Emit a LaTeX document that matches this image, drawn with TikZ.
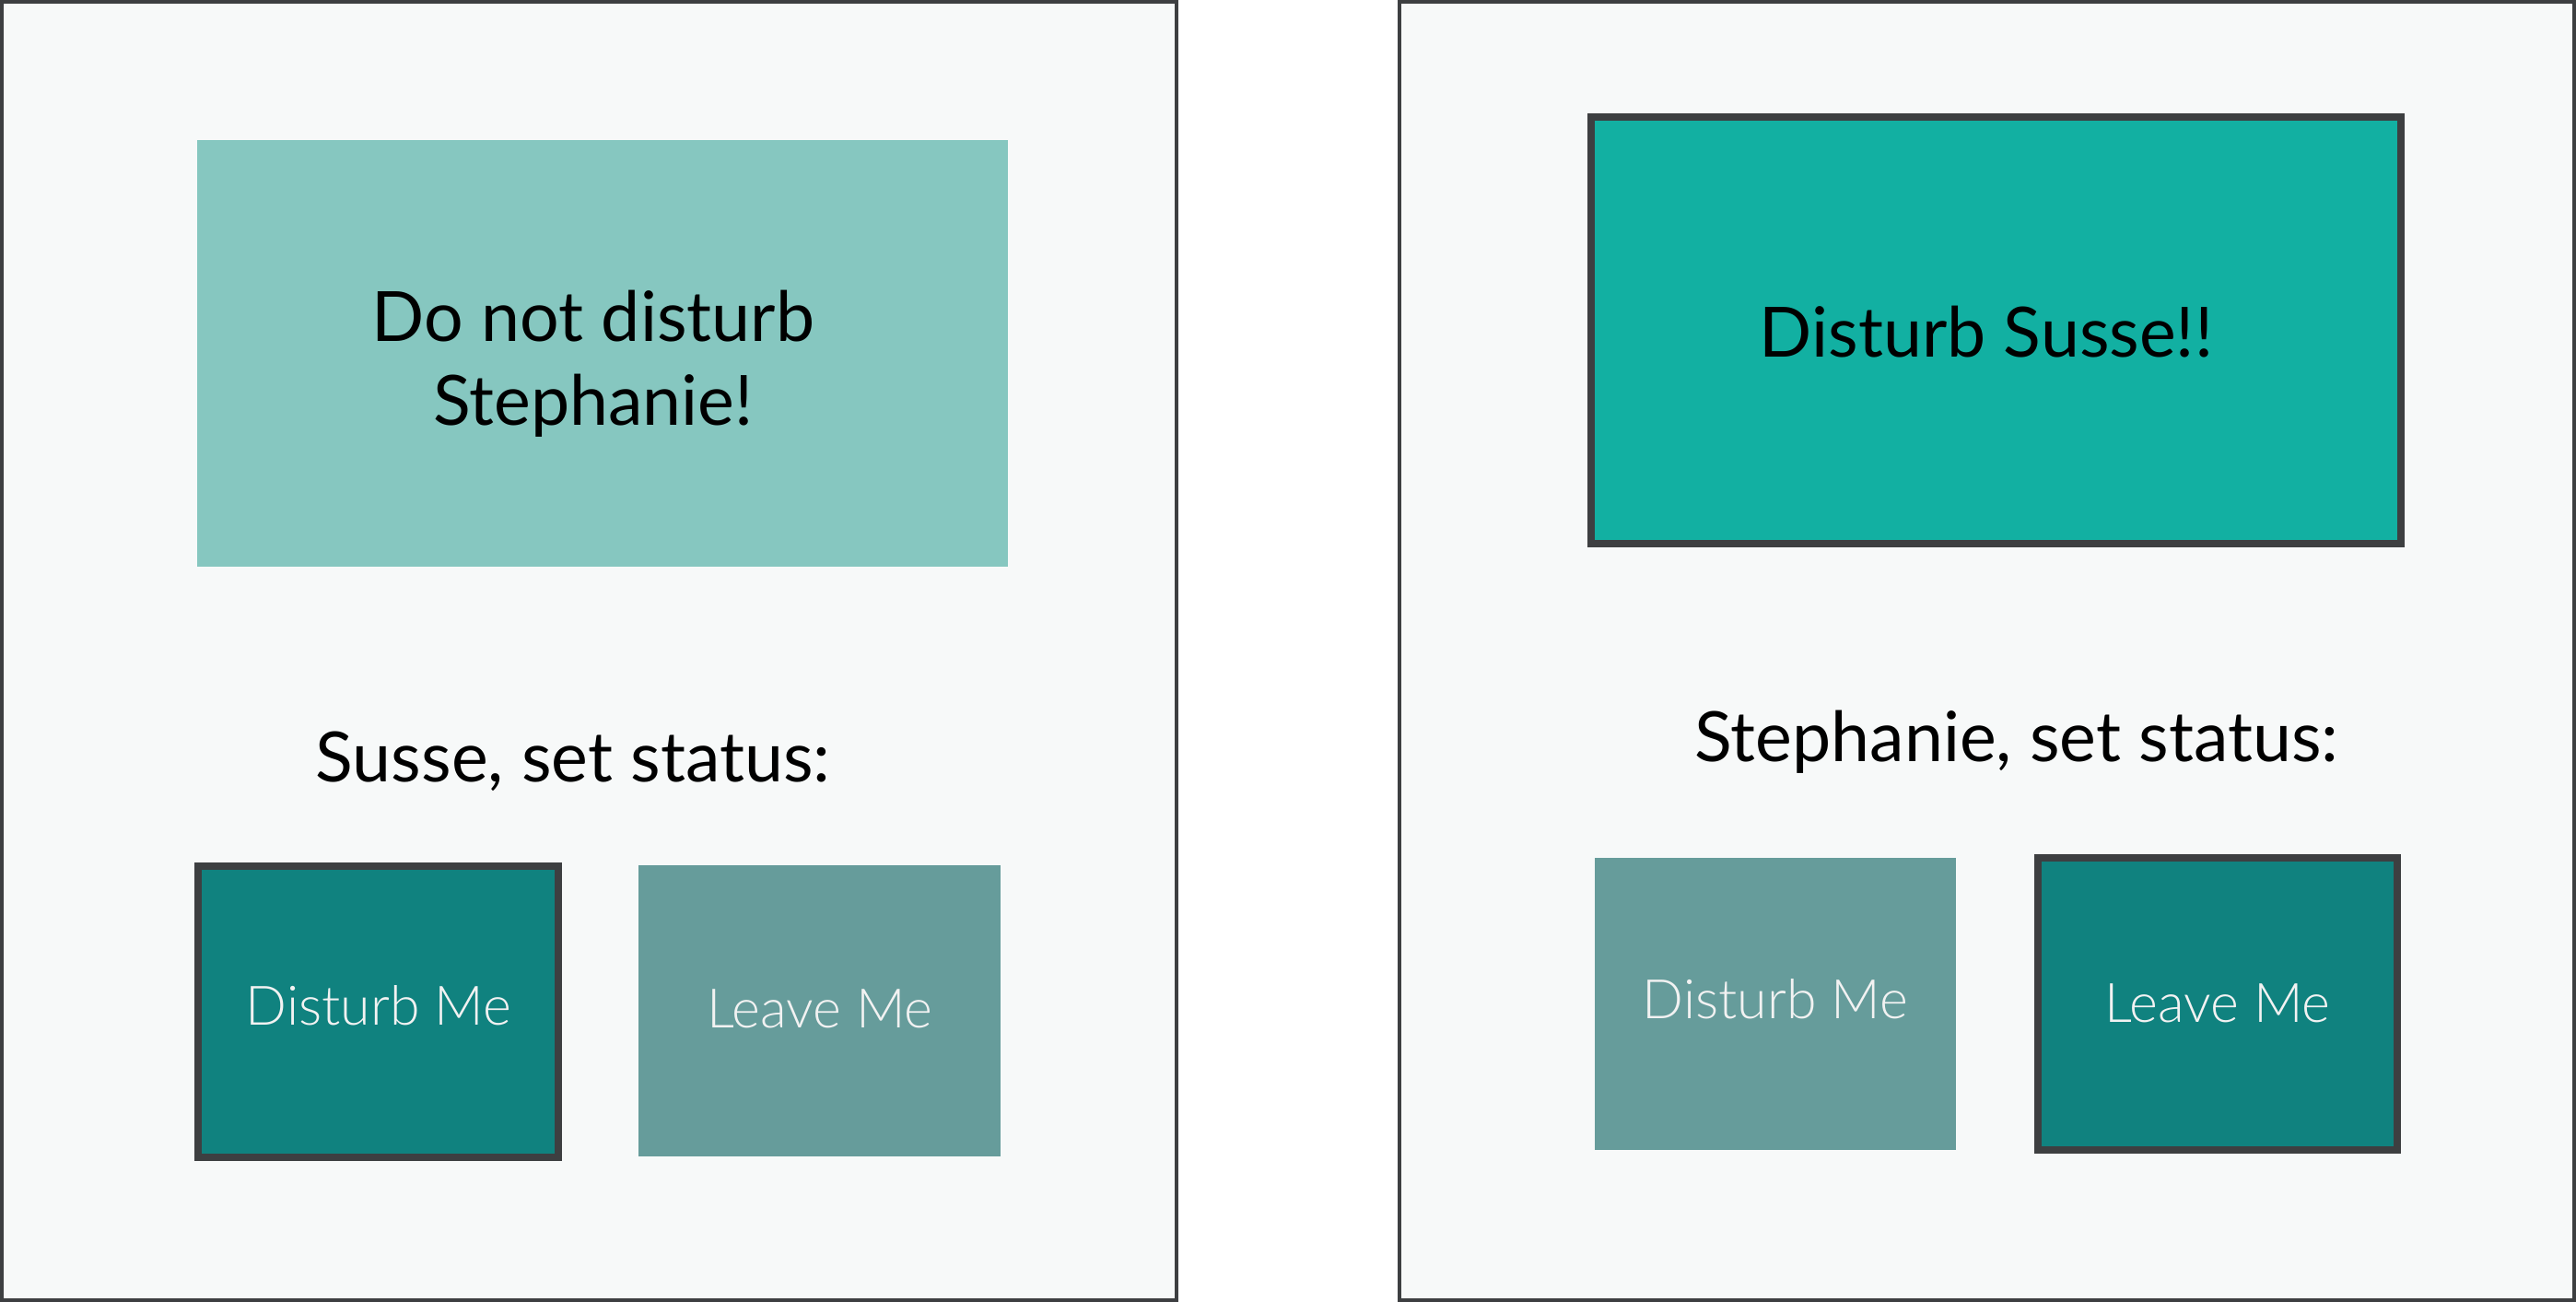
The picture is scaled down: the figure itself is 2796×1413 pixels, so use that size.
\documentclass[tikz,border=0pt]{standalone}
\usepackage{fontspec}
\setmainfont{Lato}
\newfontfamily\lightfont{Lato Light}
\definecolor{panelbg}{HTML}{F7F9F9}
\definecolor{edge}{HTML}{3D3F41}
\definecolor{lightteal}{HTML}{86C7C0}
\definecolor{brightteal}{HTML}{12B0A2}
\definecolor{darkteal}{HTML}{10827F}
\definecolor{mutedteal}{HTML}{669C9B}
\definecolor{btntext}{HTML}{F2F2F2}
\begin{document}
\begin{tikzpicture}[x=0.01cm,y=-0.01cm,
  panel/.style={draw=edge, fill=panelbg, line width=1.138pt, inner sep=0pt, minimum width=12.75cm, minimum height=14.09cm},
  bigbox/.style={inner sep=0pt, minimum height=4.63cm},
  btn/.style={inner sep=0pt},
  framed/.style={draw=edge, line width=2.276pt},
  bigtext/.style={font=\fontsize{21.4}{25}\selectfont, text=black, anchor=base, inner sep=0pt},
  btntxt/.style={font=\lightfont\fontsize{16.8}{19}\selectfont, text=btntext, anchor=base, inner sep=0pt}]
\useasboundingbox (0,0) rectangle (2796,1413);
% panels
\node[panel] (pL) at (639.5,706.5) {};
\node[panel] (pR) at (2156.5,706.5) {};
% top boxes
\node[bigbox, fill=lightteal, minimum width=8.80cm] (bL) at (654,383.5) {};
\node[bigbox, framed, fill=brightteal, minimum width=8.79cm] (bR) at (2166.5,358.5) {};
\node[bigtext] (tL1) at (644,371) {Do not disturb};
\node[bigtext] (tL2) at (644,462) {Stephanie!};
\node[bigtext] (tR) at (2156,388) {Disturb Susse!!};
% prompts
\node[bigtext] (sL) at (622,849) {Susse, set status:};
\node[bigtext] (sR) at (2189,827) {Stephanie, set status:};
% buttons left
\node[btn, framed, fill=darkteal, minimum width=3.91cm, minimum height=3.16cm] (dL) at (410.5,1098) {};
\node[btn, fill=mutedteal, minimum width=3.93cm, minimum height=3.16cm] (lL) at (889.5,1097) {};
% buttons right
\node[btn, fill=mutedteal, minimum width=3.92cm, minimum height=3.17cm] (dR) at (1927,1089.5) {};
\node[btn, framed, fill=darkteal, minimum width=3.90cm, minimum height=3.17cm] (lR) at (2407,1089.5) {};
% button labels
\node[btntxt] (dLt) at (411,1113) {Disturb Me};
\node[btntxt] (lLt) at (890,1116) {Leave Me};
\node[btntxt] (dRt) at (1927,1105) {Disturb Me};
\node[btntxt] (lRt) at (2407,1109) {Leave Me};
\end{tikzpicture}
\end{document}
